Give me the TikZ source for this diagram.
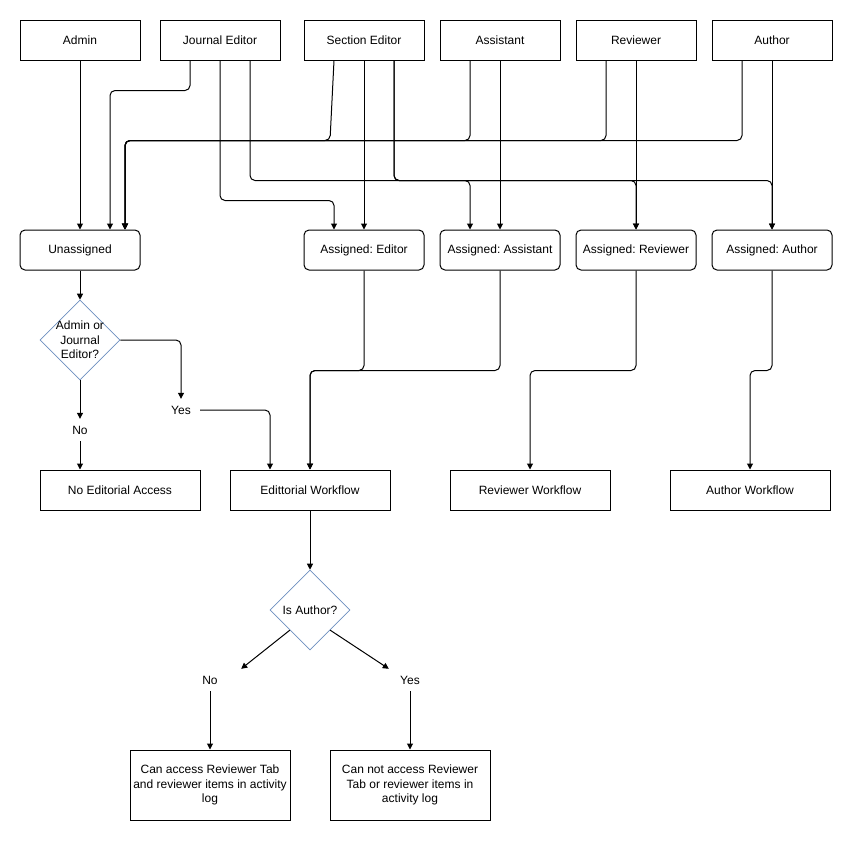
\documentclass[tikz,border=0pt]{standalone}
\usepackage{fontspec}
\setmainfont{Liberation Sans}
\usetikzlibrary{shapes.geometric,arrows.meta}
\definecolor{decblue}{RGB}{108,142,191}
\frenchspacing

\begin{document}
\begin{tikzpicture}[x=1pt, y=-1pt,
    every node/.style={font=\fontsize{12}{14.5}\selectfont},
    role/.style={draw, line width=1pt, minimum width=120pt, minimum height=40pt, inner sep=0pt},
    state/.style={role, rounded corners=5pt},
    flow/.style={draw, line width=1pt, minimum width=160pt, minimum height=40pt, inner sep=0pt, align=center},
    decide/.style={draw=decblue, line width=0.6pt, diamond, aspect=1, minimum width=80pt, minimum height=80pt, inner sep=0pt},
    lbl/.style={fill=white, minimum width=38pt, minimum height=22pt, inner sep=0pt},
    arr/.style={-{Triangle[length=6pt,width=6pt]}, line width=1pt, rounded corners=5pt}]
    \useasboundingbox (0,0) rectangle (853,841);

    % Roles
    \node[role] (admin) at (80,40) {Admin};
    \node[role] (je) at (220,40) {Journal Editor};
    \node[role] (se) at (364,40) {Section Editor};
    \node[role] (asst) at (500,40) {Assistant};
    \node[role] (rev) at (636,40) {Reviewer};
    \node[role] (auth) at (772,40) {Author};

    % Assignment states
    \node[state] (unas) at (80,250) {Unassigned};
    \node[state] (aed) at (364,250) {Assigned: Editor};
    \node[state] (aas) at (500,250) {Assigned: Assistant};
    \node[state] (arev) at (636,250) {Assigned: Reviewer};
    \node[state] (aau) at (772,250) {Assigned: Author};

    % Roles -> states
    \draw[arr] (admin.south) -- (unas.north);
    \draw[arr] ([xshift=-30pt]je.south) -- ++(0,30) -| ([xshift=30pt]unas.north);
    \draw[arr] (je.south) -- ++(0,140) -| ([xshift=-30pt]aed.north);
    \draw[arr] ([xshift=30pt]je.south) -- ++(0,120) -| (aau.north);
    \draw[arr] ([xshift=-30pt]se.south) -- ++(-4,80) -| ([xshift=45pt]unas.north);
    \draw[arr] (se.south) -- (aed.north);
    \draw[arr] ([xshift=30pt]se.south) -- ++(0,120) -| ([xshift=-30pt]aas.north);
    \draw[arr] ([xshift=30pt]se.south) -- ++(0,120) -| (arev.north);
    \draw[arr] ([xshift=-30pt]asst.south) -- ++(0,80) -| ([xshift=45pt]unas.north);
    \draw[arr] (asst.south) -- (aas.north);
    \draw[arr] ([xshift=-30pt]rev.south) -- ++(0,80) -| ([xshift=45pt]unas.north);
    \draw[arr] (rev.south) -- (arev.north);
    \draw[arr] ([xshift=-30pt]auth.south) -- ++(0,80) -| ([xshift=45pt]unas.north);
    \draw[arr] (auth.south) -- (aau.north);

    % Workflows
    \node[decide, label={[align=center]center:Admin or\\Journal\\Editor?}] (d1) at (80,340) {};
    \node[lbl] (yes1) at (181,410) {Yes};
    \node[lbl] (no1) at (80,430) {No};
    \node[flow] (noacc) at (120,490) {No Editorial Access};
    \node[flow] (ew) at (310,490) {Edittorial Workflow};
    \node[flow] (rw) at (530,490) {Reviewer Workflow};
    \node[flow] (aw) at (750,490) {Author Workflow};

    \draw[arr] (unas.south) -- (d1.north);
    \draw[arr] (d1.east) -| (yes1.north);
    \draw[arr] (yes1.east) -| ([xshift=-40pt]ew.north);
    \draw[arr] (d1.south) -- (no1.north);
    \draw[arr] (no1.south) -- (noacc.north west -| no1.south);
    \draw[arr] (aed.south) -- ++(0,100) -| (ew.north);
    \draw[arr] (aas.south) -- ++(0,100) -| (ew.north);
    \draw[arr] (arev.south) -- ++(0,100) -| (rw.north);
    \draw[arr] (aau.south) -- ++(0,100) -| (aw.north);

    % Author check
    \node[decide, label={center:Is Author?}] (d2) at (310,610) {};
    \node[lbl] (no2) at (210,680) {No};
    \node[lbl] (yes2) at (410,680) {Yes};
    \node[flow, minimum height=70pt] (can) at (210,785) {Can access Reviewer Tab\\and reviewer items in activity\\log};
    \node[flow, minimum height=70pt] (cannot) at (410,785) {Can not access Reviewer\\Tab or reviewer items in\\activity log};

    \draw[arr] (ew.south) -- (d2.north);
    \draw[arr] (d2.south west) -- ([xshift=12pt]no2.north east);
    \draw[arr] (d2.south east) -- ([xshift=-2pt]yes2.north west);
    \draw[arr] (no2.south) -- (can.north);
    \draw[arr] (yes2.south) -- (cannot.north);
\end{tikzpicture}
\end{document}
